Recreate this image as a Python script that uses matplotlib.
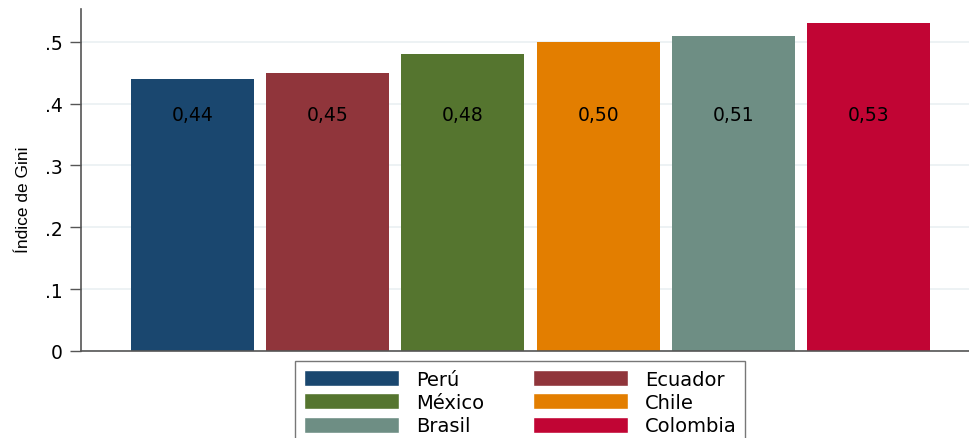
import matplotlib.pyplot as plt
from matplotlib.patches import Patch

# datos
paises = ['Perú', 'Ecuador', 'México', 'Chile', 'Brasil', 'Colombia']
gini = [0.44, 0.45, 0.48, 0.50, 0.51, 0.53]
etiquetas = ['0,44', '0,45', '0,48', '0,50', '0,51', '0,53']
colores = ['#1a476f', '#90353b', '#55752f', '#e37e00', '#6e8e84', '#c10534']
yticks = [0, 0.1, 0.2, 0.3, 0.4, 0.5]
yticklabels = ['0', '.1', '.2', '.3', '.4', '.5']

plt.rcParams['font.family'] = ['DejaVu Sans']

fig = plt.figure(figsize=(9.69, 4.39), dpi=100)
ax = fig.add_axes([81 / 969, 1 - 352 / 439, 1 - 81 / 969, 342 / 439])

x = list(range(len(paises)))
ax.bar(x, gini, width=0.91, color=colores, zorder=2)
for xi, lab in zip(x, etiquetas):
    ax.text(xi, 0.383, lab, ha='center', va='center', fontsize=13.5, zorder=3)

ax.set_xlim(-0.826, 5.744)
ax.set_ylim(0, 0.553)
ax.set_yticks(yticks)
ax.set_yticklabels(yticklabels, fontsize=13.5)
ax.set_xticks([])
ax.tick_params(axis='y', length=8, width=1, color='#555555', pad=5)
ax.yaxis.grid(True, color='#eaf0f2', linewidth=1.2, zorder=0)
ax.set_axisbelow(True)
for s in ['top', 'right']:
    ax.spines[s].set_visible(False)
for s in ['left', 'bottom']:
    ax.spines[s].set_color('#555555')
    ax.spines[s].set_linewidth(1.2)

ax.set_ylabel('Índice de Gini', fontsize=12.5,
              family=['Liberation Sans Narrow', 'Liberation Sans', 'DejaVu Sans'])
ax.yaxis.set_label_coords(-0.056, 0.444)

# leyenda: matplotlib llena por columnas
orden = [0, 2, 4, 1, 3, 5]
handles = [Patch(facecolor=colores[i], edgecolor='white') for i in orden]
names = [paises[i] for i in orden]
leg = fig.legend(handles, names, ncol=2, loc='upper left',
                 bbox_to_anchor=(295 / 969, 1 - 362 / 439),
                 fontsize=14, handlelength=4.9, handleheight=0.9,
                 handletextpad=0.87, columnspacing=2.5, labelspacing=0.22,
                 borderpad=0.45, borderaxespad=0, frameon=True, fancybox=False)
leg.get_frame().set_edgecolor('#555555')
leg.get_frame().set_linewidth(1.0)

fig.savefig('out.png', dpi=100)
